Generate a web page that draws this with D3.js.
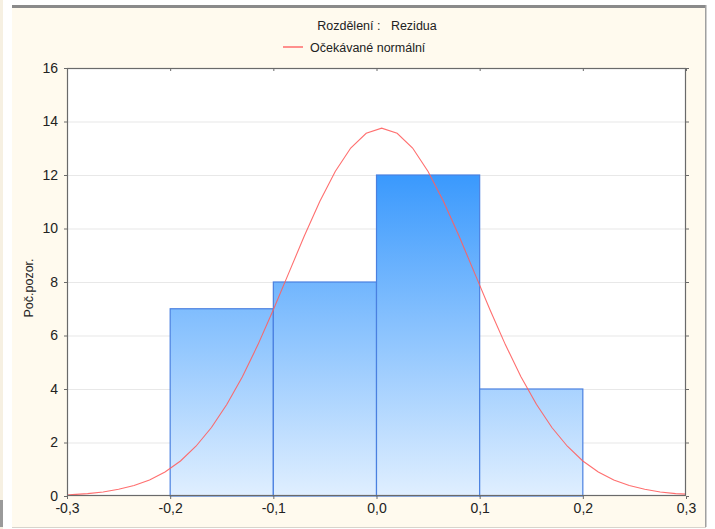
<!DOCTYPE html>
<html>
<head>
<meta charset="utf-8">
<script src="https://cdn.jsdelivr.net/npm/d3@7"></script>
<style>
  html, body { margin: 0; padding: 0; background: #fff; }
  svg { display: block; font-family: "Liberation Sans", Arial, sans-serif; }
</style>
</head>
<body>
<div id="viz_canvas"></div>
<script>
"use strict";

// histogram bins (lower, upper edge) and counts
var binStarts = [-0.2, -0.1, 0.0, 0.1];
var binEnds = [-0.1, 0.0, 0.1, 0.2];
var counts = [7, 8, 12, 4];

// expected normal curve
var curveX = [-0.3, -0.295, -0.28, -0.265, -0.25, -0.235, -0.22, -0.205, -0.19, -0.175, -0.16,
    -0.145, -0.13, -0.115, -0.1, -0.085, -0.07, -0.055, -0.04, -0.025, -0.01, 0.005,
    0.02, 0.035, 0.05, 0.065, 0.08, 0.095, 0.11, 0.125, 0.14, 0.155, 0.17, 0.185,
    0.2, 0.215, 0.23, 0.245, 0.26, 0.275, 0.29, 0.3];
var curveY = [0.04, 0.05, 0.09, 0.15, 0.25, 0.39, 0.60, 0.90, 1.31, 1.86, 2.56,
    3.43, 4.46, 5.65, 6.96, 8.34, 9.72, 11.01, 12.13, 13.01, 13.56, 13.75,
    13.56, 13.01, 12.13, 11.01, 9.72, 8.34, 6.96, 5.65, 4.46, 3.43, 2.56, 1.86,
    1.31, 0.90, 0.60, 0.39, 0.25, 0.15, 0.09, 0.07];

var xTicks = [-0.3, -0.2, -0.1, 0.0, 0.1, 0.2, 0.3];
var yTicks = [0, 2, 4, 6, 8, 10, 12, 14, 16];

var titleText = "Rozdělení :   Rezidua";
var legendText = "Očekávané normální";
var yLabel = "Poč.pozor.";

var width = 715, height = 529;
var plot = { left: 67, right: 686, top: 68, bottom: 496 };

var svg = d3.select("#viz_canvas").append("svg")
    .attr("width", width)
    .attr("height", height);

// outer panel
svg.append("rect").attr("x", 0).attr("y", 0).attr("width", 3).attr("height", height).attr("fill", "#f6f0e2");
svg.append("rect").attr("x", 0).attr("y", 500).attr("width", 3).attr("height", 27).attr("fill", "#9a9a9a");
svg.append("rect")
    .attr("x", 12).attr("y", 5).attr("width", 694).attr("height", 522)
    .attr("fill", "#fffaee");
svg.append("rect").attr("x", 12).attr("y", 5).attr("width", 694).attr("height", 3).attr("fill", "#8a8a8a");
svg.append("rect").attr("x", 705).attr("y", 5).attr("width", 1.5).attr("height", 522).attr("fill", "#a0a0a0");
svg.append("line").attr("x1", 12).attr("x2", 706).attr("y1", 527.5).attr("y2", 527.5)
    .attr("stroke", "#d8d4cc");

var x = d3.scaleLinear().domain([-0.3, 0.3]).range([plot.left, plot.right]);
var y = d3.scaleLinear().domain([0, 16]).range([plot.bottom, plot.top]);

var defs = svg.append("defs");
var grad = defs.append("linearGradient")
    .attr("id", "barFill")
    .attr("gradientUnits", "userSpaceOnUse")
    .attr("x1", 0).attr("x2", 0)
    .attr("y1", y(d3.max(counts))).attr("y2", y(0));
grad.append("stop").attr("offset", "0%").attr("stop-color", "#3a99fd");
grad.append("stop").attr("offset", "100%").attr("stop-color", "#e0efff");

// plot background
svg.append("rect")
    .attr("x", plot.left).attr("y", plot.top)
    .attr("width", plot.right - plot.left).attr("height", plot.bottom - plot.top)
    .attr("fill", "#fff");

// grid
svg.append("g")
    .selectAll("line")
    .data(yTicks.filter(d => d > 0 && d < 16))
    .enter().append("line")
    .attr("x1", plot.left).attr("x2", plot.right)
    .attr("y1", d => y(d) + 0.5).attr("y2", d => y(d) + 0.5)
    .attr("stroke", "#e8e8e8")
    .attr("stroke-width", 1.2);

// bars
svg.append("g")
    .selectAll("rect")
    .data(counts)
    .enter().append("rect")
    .attr("x", (d, i) => x(binStarts[i]))
    .attr("y", d => y(d))
    .attr("width", (d, i) => x(binEnds[i]) - x(binStarts[i]))
    .attr("height", d => y(0) - y(d))
    .attr("fill", "url(#barFill)")
    .attr("stroke", "#4a80e0")
    .attr("stroke-width", 1.2);

// normal curve
var line = d3.line()
    .x((d, i) => x(curveX[i]))
    .y(d => y(d));
svg.append("path")
    .datum(curveY)
    .attr("d", line)
    .attr("fill", "none")
    .attr("stroke", "#ff5f5f")
    .attr("stroke-width", 1.1)
    .attr("stroke-opacity", 0.9);

// frame
svg.append("rect")
    .attr("x", plot.left + 0.5).attr("y", plot.top + 0.5)
    .attr("width", plot.right - plot.left - 1).attr("height", plot.bottom - plot.top - 1)
    .attr("fill", "none")
    .attr("stroke", "#6a6a6a")
    .attr("stroke-width", 1.2);

// axes
var xAxis = d3.axisBottom(x)
    .tickValues(xTicks)
    .tickSize(3)
    .tickPadding(4)
    .tickFormat(d => d3.format(".1f")(d).replace(".", ",").replace("−", "-"));
var gx = svg.append("g")
    .attr("transform", "translate(0," + plot.bottom + ")")
    .call(xAxis);

var yAxis = d3.axisLeft(y)
    .tickValues(yTicks)
    .tickSize(3)
    .tickPadding(6)
    .tickFormat(d3.format("d"));
var gy = svg.append("g")
    .attr("transform", "translate(" + plot.left + ",0)")
    .call(yAxis);

var gTop = svg.append("g")
    .attr("transform", "translate(0," + plot.top + ")")
    .call(d3.axisBottom(x).tickValues(xTicks).tickSize(3).tickFormat(""));
var gRight = svg.append("g")
    .attr("transform", "translate(" + plot.right + ",0)")
    .call(d3.axisRight(y).tickValues(yTicks).tickSize(3).tickFormat(""));

[gx, gy, gTop, gRight].forEach(function (g) {
    g.select(".domain").remove();
    g.selectAll(".tick line").attr("stroke", "#6a6a6a");
    g.selectAll("text")
        .attr("fill", "#222")
        .style("font-size", "14px")
        .style("font-family", "'Liberation Sans', Arial, sans-serif");
});

// titles
svg.append("text")
    .attr("x", 377).attr("y", 30)
    .attr("text-anchor", "middle")
    .attr("fill", "#222")
    .style("font-size", "12.5px")
    .style("white-space", "pre")
    .attr("xml:space", "preserve")
    .text(titleText);

svg.append("line")
    .attr("x1", 283).attr("x2", 303)
    .attr("y1", 47).attr("y2", 47)
    .attr("stroke", "#ff6b6b")
    .attr("stroke-width", 1.5);
svg.append("text")
    .attr("x", 310).attr("y", 51.5)
    .attr("fill", "#222")
    .style("font-size", "12.5px")
    .text(legendText);

svg.append("text")
    .attr("transform", "translate(33," + ((plot.top + plot.bottom) / 2 + 6) + ") rotate(-90)")
    .attr("text-anchor", "middle")
    .attr("fill", "#222")
    .style("font-size", "12.5px")
    .text(yLabel);
</script>
</body>
</html>
